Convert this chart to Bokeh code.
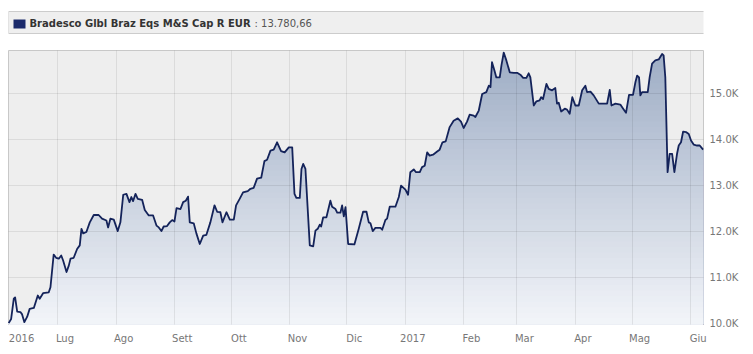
import numpy as np
import pandas as pd
from bokeh.plotting import figure
from bokeh.layouts import column
from bokeh.models import Range1d, FixedTicker
from bokeh.core.properties import value
from bokeh.embed import file_html
from bokeh.resources import INLINE

# ---------------- data ----------------
fund_name = "Bradesco Glbl Braz Eqs M&S Cap R EUR"
last_value_text = ": 13.780,66"
origin = pd.Timestamp("2016-06-01")

# days since 2016-06-01
days = [4.2, 5.5, 6.9, 7.6, 8.7, 10.4, 11.3, 12.5, 14.0, 15.3, 17.5, 19.6, 20.6, 22.4, 25.4, 26.3, 28.0, 29.3, 30.7, 32.0,
        33.0, 34.8, 36.0, 36.9, 38.6, 40.4, 41.8, 42.7, 43.6, 45.3, 47.1, 49.2, 51.8, 53.6, 55.9, 56.8, 58.0, 59.8, 61.9, 63.3,
        64.8, 66.5, 68.1, 69.1, 70.0, 71.3, 72.5, 74.8, 76.2,
        78.3, 80.6, 82.4, 83.6, 85.0, 86.2, 88.0, 89.4, 90.7, 91.9, 93.0, 95.1, 96.5, 97.9, 99.1, 100.0, 102.1, 103.5, 105.3, 107.1,
        108.8, 110.9, 113.1, 114.5, 116.2, 117.3, 119.4, 121.2, 123.3, 124.5, 126.4, 128.2, 130.7, 132.1, 133.8, 135.6, 137.8, 139.5,
        140.9, 142.7, 144.4, 146.2, 148.3, 150.2,
        152.4, 154.2, 155.4, 156.4, 158.2, 159.1, 160.0, 161.2, 163.5, 165.3, 166.5, 167.7, 168.8, 169.5, 170.6, 172.3, 174.4, 175.3,
        177.1, 178.0, 179.7, 180.6, 181.5, 182.4, 183.8, 187.1, 189.4, 191.7, 193.5, 194.7, 195.6, 196.8, 198.2, 200.9, 201.8, 203.5,
        204.4, 205.8, 208.8, 210.6, 211.8, 214.1, 215.5, 216.7, 218.5, 219.7, 221.7, 222.9, 224.3,
        225.6, 226.9, 228.7, 230.9, 232.2, 233.7, 235.4, 237.5, 239.6, 241.8, 243.5, 244.9, 246.7, 248.1, 250.2, 251.1, 252.9, 254.7,
        256.9, 258.2, 259.1, 259.9, 261.2, 262.2, 264.0, 264.9, 266.1, 267.5, 269.3, 271.4, 273.2, 274.9, 276.4, 278.1, 279.3, 280.2,
        282.0, 283.4, 285.1, 285.9, 286.9, 288.7, 289.9, 291.7, 293.4, 294.3, 295.2, 296.5, 298.4,
        299.6, 301.0, 302.4, 304.0, 305.8, 307.6, 309.3, 310.2, 312.0, 313.7, 316.4, 320.8, 322.2, 323.1, 325.2, 327.8, 329.3, 330.8,
        332.4, 334.5, 335.8, 336.7, 337.7, 338.4, 339.3, 342.3, 343.3, 344.6, 346.3, 348.1, 349.9, 350.7, 351.6, 352.8, 353.9, 355.2,
        356.4, 357.8, 358.7, 359.9, 361.0, 362.7, 364.0, 365.2, 366.6, 368.4, 369.8, 371.6]

values = [10010, 10100, 10540, 10570, 10260, 10250, 10200, 10030, 10150, 10320, 10340, 10610, 10540, 10660, 10680, 10790, 11500,
          11430, 11410, 11480, 11370, 11120, 11260, 11410, 11430, 11620, 11700, 12060, 11960, 11990, 12200, 12360, 12360, 12280,
          12240, 12090, 12280, 12260, 12010, 12200, 12800, 12820, 12640, 12750, 12660, 12820, 12710, 12690, 12470,
          12350, 12350, 12130, 12090, 12010, 12110, 12120, 12200, 12250, 12220, 12510, 12490, 12640, 12670, 12760, 12200, 12180,
          11960, 11730, 11910, 11930, 12200, 12570, 12430, 12420, 12200, 12420, 12260, 12260, 12570, 12710, 12850, 12880, 12930,
          12950, 13150, 13170, 13530, 13560, 13760, 13780, 13940, 13750, 13720,
          13830, 13830, 12820, 12730, 12730, 13360, 13470, 13360, 11700, 11680, 12020, 12060, 12150, 12110, 12310, 12310, 12670,
          12540, 12490, 12410, 12410, 12570, 12330, 12530, 11730, 11720, 12060, 12430, 12430, 12200, 12180, 12010, 12080, 12080,
          12040, 12250, 12280, 12540, 12540, 12750, 13000, 12910, 12800, 13290, 13350, 13290, 13290, 13400, 13430,
          13720, 13650, 13670, 13740, 13780, 13940, 13960, 14270, 14410, 14460, 14390, 14250, 14390, 14540, 14520, 14490, 14630,
          14990, 15030, 15170, 15140, 15680, 15500, 15350, 15350, 15610, 15890, 15720, 15460, 15450, 15450, 15410, 15340, 15340,
          15440, 15350, 14740, 14830, 14850, 14920, 14880, 15210, 15100, 15070, 15120, 14780, 14800, 14610, 14670,
          14650, 14560, 14920, 14740, 14740, 15070, 15170, 15030, 15040, 14960, 14780, 14780, 15080, 14740, 14780, 14760, 14670,
          14580, 14970, 14970, 15250, 15390, 15350, 14960, 15030, 15030, 15350, 15650, 15720, 15740, 15860, 15830, 15350, 13290,
          13690, 13690, 13290, 13690, 13870, 13940, 14170, 14160, 14120, 13980, 13890, 13870, 13870, 13780.66]

assert len(days) == len(values)

month_starts = pd.date_range("2016-07-01", "2017-06-01", freq="MS")
x_labels = ["2016", "Lug", "Ago", "Sett", "Ott", "Nov", "Dic", "2017", "Feb", "Mar", "Apr", "Mag", "Giu"]
y_ticks = [10000, 11000, 12000, 13000, 14000, 15000]

# ---------------- derived ----------------
x = np.array(days, dtype=float)
v = np.array(values, dtype=float)
grid_days = [int(d) for d in (month_starts - origin).days]
label_days = [int(round(days[0])) + 7] + [g + 4 for g in grid_days]

FONT = value("DejaVu Sans")
Y0, Y1 = 9980, 15935
BORDER_L, BORDER_R = 8, 50

# ---------------- header ----------------
# frame spans page pixels 8..703; range given in page pixels
h = figure(width=753, height=44, x_range=Range1d(BORDER_L, 753 - BORDER_R), y_range=Range1d(44, 0),
           output_backend="svg", toolbar_location=None, min_border=0,
           min_border_left=BORDER_L, min_border_right=BORDER_R,
           x_axis_location=None, y_axis_location=None, outline_line_color=None)
h.grid.visible = False
h.quad(left=[8], right=[705], top=[11], bottom=[33], fill_color="#EFEFEF", line_color="#CCCCCC")
h.quad(left=[13], right=[25], top=[19], bottom=[28], fill_color="#1B2A6B", line_color=None)
h.text(x=[29], y=[23], text=[fund_name], text_font=FONT, text_font_style="bold",
       text_font_size="10px", text_baseline="middle", text_color="#333333")
h.text(x=[254], y=[23], text=[last_value_text], text_font=FONT,
       text_font_size="10px", text_baseline="middle", text_color="#555555")

# ---------------- main chart ----------------
p = figure(width=753, height=310, output_backend="svg", toolbar_location=None,
           x_range=Range1d(4.1, 371.8), y_range=Range1d(Y0, Y1),
           y_axis_location="right", min_border_left=BORDER_L, min_border_right=BORDER_R,
           min_border_top=6, min_border_bottom=30,
           background_fill_color="#EEEEEE", border_fill_color="white",
           outline_line_color="#C8C8C8")

top_rgb = np.array([158, 173, 197])
bot_rgb = np.array([243, 245, 249])
n_layers = 50
thresholds = np.linspace(Y1, 10000, n_layers, endpoint=False)
for t in thresholds:
    f = (t - 10000) / (Y1 - 10000)
    c = bot_rgb + (top_rgb - bot_rgb) * f
    col = "#%02x%02x%02x" % tuple(int(round(k)) for k in c)
    p.varea(x=x, y1=Y0, y2=np.minimum(v, t), fill_color=col)

line_r = p.line(x, v, line_color="#14235A", line_width=1.8, line_join="round")
line_r.level = "overlay"

p.xgrid.ticker = FixedTicker(ticks=grid_days)
p.ygrid.ticker = FixedTicker(ticks=y_ticks[1:])
p.grid.grid_line_color = "#000000"
p.grid.grid_line_alpha = 0.08
p.grid.level = "guide"

p.xaxis.ticker = FixedTicker(ticks=label_days)
p.xaxis.major_label_overrides = {d: lab for d, lab in zip(label_days, x_labels)}
p.yaxis.ticker = FixedTicker(ticks=y_ticks)
p.yaxis.major_label_overrides = {t: f"{t/1000:.1f}K" for t in y_ticks}

for ax in (p.xaxis[0], p.yaxis[0]):
    ax.axis_line_color = None
    ax.major_tick_line_color = None
    ax.minor_tick_line_color = None
    ax.major_tick_out = 0
    ax.major_tick_in = 0
    ax.minor_tick_out = 0
    ax.minor_tick_in = 0
    ax.major_label_text_font = "DejaVu Sans"
    ax.major_label_text_font_size = "10px"
    ax.major_label_text_color = "#777777"
p.xaxis.major_label_standoff = 8
p.yaxis.major_label_standoff = 6

layout = column(h, p, spacing=0)
open("out.html", "w").write(file_html(layout, INLINE))
